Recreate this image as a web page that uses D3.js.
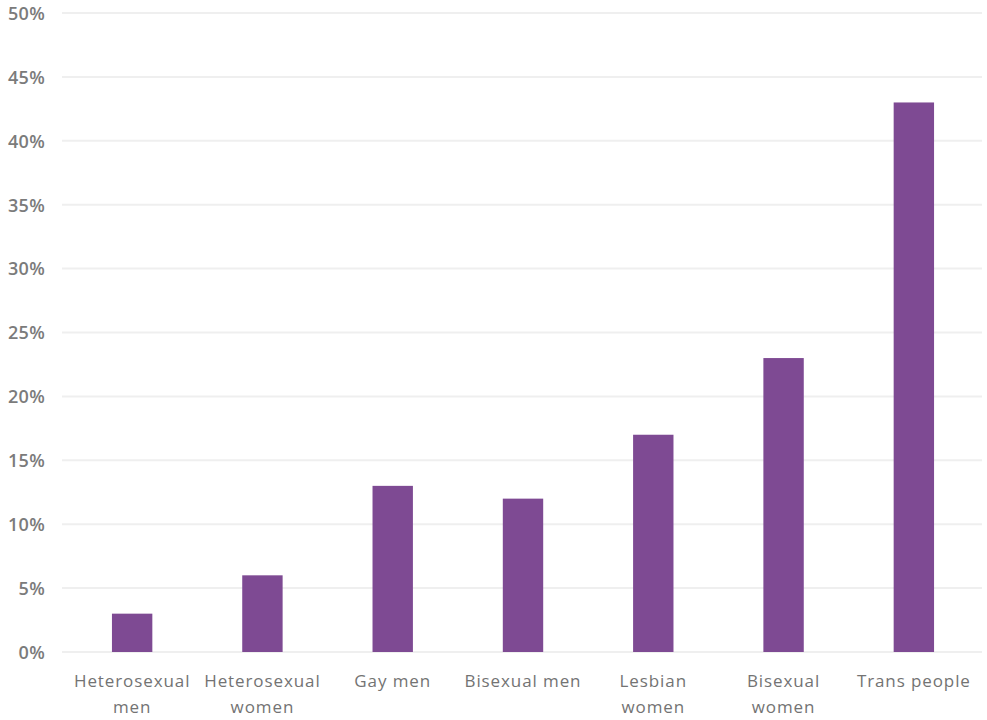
<!DOCTYPE html>
<html>
<head>
<meta charset="utf-8">
<script src="https://cdn.jsdelivr.net/npm/d3@7"></script>
<style>
  html, body { margin: 0; padding: 0; background: #fff; }
  svg text { font-family: "Open Sans", Lato, sans-serif; }
</style>
</head>
<body>
<svg id="chart" width="987" height="720"></svg>
<script>
// Share of each group, in percent
const categories = [
  ["Heterosexual", "men"],
  ["Heterosexual", "women"],
  ["Gay men"],
  ["Bisexual men"],
  ["Lesbian", "women"],
  ["Bisexual", "women"],
  ["Trans people"]
];
const values = [3, 6, 13, 12, 17, 23, 43];
const yTicks = [0, 5, 10, 15, 20, 25, 30, 35, 40, 45, 50];

(function draw() {
  const svg = d3.select("#chart");
  const plotLeft = 67, plotRight = 979, plotTop = 13, plotBottom = 652;

  const x = d3.scaleBand()
    .domain(categories.map((d, i) => i))
    .range([plotLeft, plotRight])
    .paddingInner(0.69)
    .paddingOuter(0.345);

  const y = d3.scaleLinear().domain([0, 50]).range([plotBottom, plotTop]);

  // horizontal gridlines
  svg.append("g")
    .selectAll("line")
    .data(yTicks)
    .join("line")
    .attr("x1", 62)
    .attr("x2", 982)
    .attr("y1", d => y(d))
    .attr("y2", d => y(d))
    .attr("stroke", "#efefef")
    .attr("stroke-width", 2);

  // y tick labels
  const yAxis = d3.axisLeft(y).tickValues(yTicks).tickFormat(d => d + "%").tickSize(0).tickPadding(0);
  const gy = svg.append("g").attr("transform", "translate(45,0)").call(yAxis);
  gy.select(".domain").remove();
  gy.selectAll("text")
    .attr("fill", "#7b7b7b")
    .attr("font-size", 18)
    .attr("font-weight", 600)
    .attr("font-family", "'Open Sans', Lato, sans-serif")
    .attr("letter-spacing", "0.3px")
    .attr("dy", "0.35em");

  // bars
  svg.append("g")
    .selectAll("rect")
    .data(values)
    .join("rect")
    .attr("x", (d, i) => x(i))
    .attr("width", x.bandwidth())
    .attr("y", d => y(d))
    .attr("height", d => y(0) - y(d))
    .attr("fill", "#7e4a93");

  // category labels
  const gx = svg.append("g");
  categories.forEach((lines, i) => {
    const cx = x(i) + x.bandwidth() / 2;
    const t = gx.append("text")
      .attr("x", cx)
      .attr("y", 687)
      .attr("text-anchor", "middle")
      .attr("fill", "#737373")
      .attr("font-size", 17)
      .attr("letter-spacing", "0.9px");
    lines.forEach((l, j) => {
      t.append("tspan")
        .attr("x", cx)
        .attr("dy", j === 0 ? 0 : 26)
        .text(l);
    });
  });
})();
</script>
</body>
</html>
